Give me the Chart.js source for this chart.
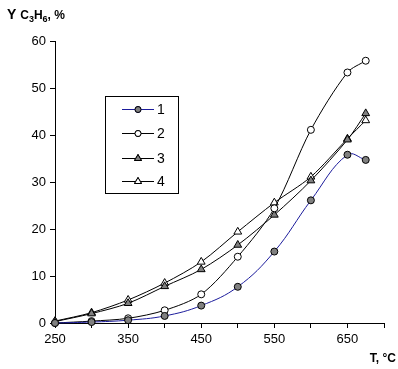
<!DOCTYPE html>
<html>
<head>
<meta charset="utf-8">
<script src="https://cdn.jsdelivr.net/npm/chart.js@4"></script>
<style>
  body { margin: 0; background: #fff; }
  canvas { display: block; }
</style>
</head>
<body>
<canvas id="chart" width="398" height="369"></canvas>
<script>
// temperatures, °C
let temps = [250, 300, 350, 400, 450, 500, 550, 600, 650, 675];
// propylene yield, %
let y1 = [0, 0.2, 0.6, 1.5, 3.7, 7.7, 15.2, 26.1, 35.8, 34.7];
let y2 = [0, 0.4, 1.0, 2.7, 6.1, 14.1, 24.4, 41.1, 53.3, 55.8];
let y3 = [0.3, 2.0, 4.2, 7.8, 11.4, 16.6, 23.0, 30.3, 39.0, 44.6];
let y4 = [0.4, 2.2, 4.9, 8.5, 13.0, 19.4, 25.6, 31.1, 39.2, 43.1];
let seriesNames = ["1", "2", "3", "4"];
let xLabels = [250, 350, 450, 550, 650];

const FONT = "'Liberation Sans', Arial, sans-serif";

function toPoints(ys) {
    return temps.map((t, i) => ({ x: t, y: ys[i] }));
}

function makeSet(label, ys, color, style, fill, radius, tension) {
    return {
        label: label,
        data: toPoints(ys),
        clip: false,
        borderColor: color,
        borderWidth: 1,
        tension: tension,
        pointStyle: style,
        pointRadius: radius,
        pointBackgroundColor: fill,
        pointBorderColor: "#000",
        pointBorderWidth: 1
    };
}

// legend box drawn inside the plot like the original
const boxLegend = {
    id: "boxLegend",
    afterDraw(chart) {
        let ctx = chart.ctx;
        ctx.save();
        ctx.strokeStyle = "#000";
        ctx.lineWidth = 1;
        ctx.strokeRect(105.5, 96.5, 73, 97);
        let rows = [109, 133, 158, 181];
        chart.data.datasets.forEach((ds, i) => {
            let y = rows[i];
            ctx.strokeStyle = ds.borderColor;
            ctx.beginPath();
            ctx.moveTo(122, y + 0.5);
            ctx.lineTo(154, y + 0.5);
            ctx.stroke();
            Chart.helpers.drawPoint(ctx, {
                pointStyle: ds.pointStyle,
                radius: ds.pointRadius - 0.5,
                borderWidth: 1,
                rotation: 0
            }, 138, y + 0.5);
            ctx.fillStyle = ds.pointBackgroundColor;
            ctx.strokeStyle = "#000";
            ctx.fill();
            ctx.stroke();
            ctx.fillStyle = "#000";
            ctx.font = "14px " + FONT;
            ctx.textBaseline = "middle";
            ctx.fillText(ds.label, 157, y + 1);
        });
        ctx.restore();
    }
};

// axis titles with subscripts
const axisTitles = {
    id: "axisTitles",
    afterDraw(chart) {
        let ctx = chart.ctx;
        ctx.save();
        ctx.fillStyle = "#000";
        ctx.textBaseline = "alphabetic";
        let x = 7, base = 19;
        let parts = [
            ["Y ", "bold 14px", 0],
            ["C", "bold 12px", 0],
            ["3", "bold 9px", 3],
            ["H", "bold 12px", 0],
            ["6", "bold 9px", 3],
            [", %", "bold 12px", 0]
        ];
        parts.forEach(p => {
            ctx.font = p[1] + " " + FONT;
            ctx.fillText(p[0], x, base + p[2]);
            x += ctx.measureText(p[0]).width;
        });
        ctx.font = "bold 12px " + FONT;
        ctx.textAlign = "right";
        ctx.fillText("T, °C", 396, 362);
        ctx.restore();
    }
};

new Chart(document.getElementById("chart"), {
    type: "line",
    data: {
        datasets: [
            makeSet(seriesNames[0], y1, "#1c1c9c", "circle", "#808080", 3.5, 0.4),
            makeSet(seriesNames[1], y2, "#000", "circle", "#fff", 3.5, 0.3),
            makeSet(seriesNames[2], y3, "#000", "triangle", "#808080", 4.5, 0.3),
            makeSet(seriesNames[3], y4, "#000", "triangle", "#fff", 4.5, 0.3)
        ]
    },
    options: {
        responsive: false,
        animation: false,
        devicePixelRatio: 1,
        layout: { padding: { top: 41, right: 14, left: 0, bottom: 0 } },
        plugins: {
            legend: { display: false },
            tooltip: { enabled: false }
        },
        scales: {
            x: {
                type: "linear",
                min: 250,
                max: 700,
                afterFit: s => { s.height = 46; },
                afterBuildTicks: s => {
                    s.ticks = [];
                    for (let v = 250; v <= 700; v += 50) s.ticks.push({ value: v });
                },
                ticks: {
                    color: "#000",
                    font: { family: FONT, size: 13 },
                    maxRotation: 0,
                    autoSkip: false,
                    padding: 4,
                    callback: v => xLabels.includes(v) ? String(v) : ""
                },
                grid: { drawOnChartArea: false, color: "#000", tickLength: 5 },
                border: { color: "#000", width: 1 }
            },
            y: {
                min: 0,
                max: 60,
                afterFit: s => { s.width = 55; },
                ticks: {
                    stepSize: 10,
                    color: "#000",
                    font: { family: FONT, size: 13 },
                    padding: 4
                },
                grid: { drawOnChartArea: false, color: "#000", tickLength: 5 },
                border: { color: "#000", width: 1 }
            }
        }
    },
    plugins: [boxLegend, axisTitles]
});
</script>
</body>
</html>
